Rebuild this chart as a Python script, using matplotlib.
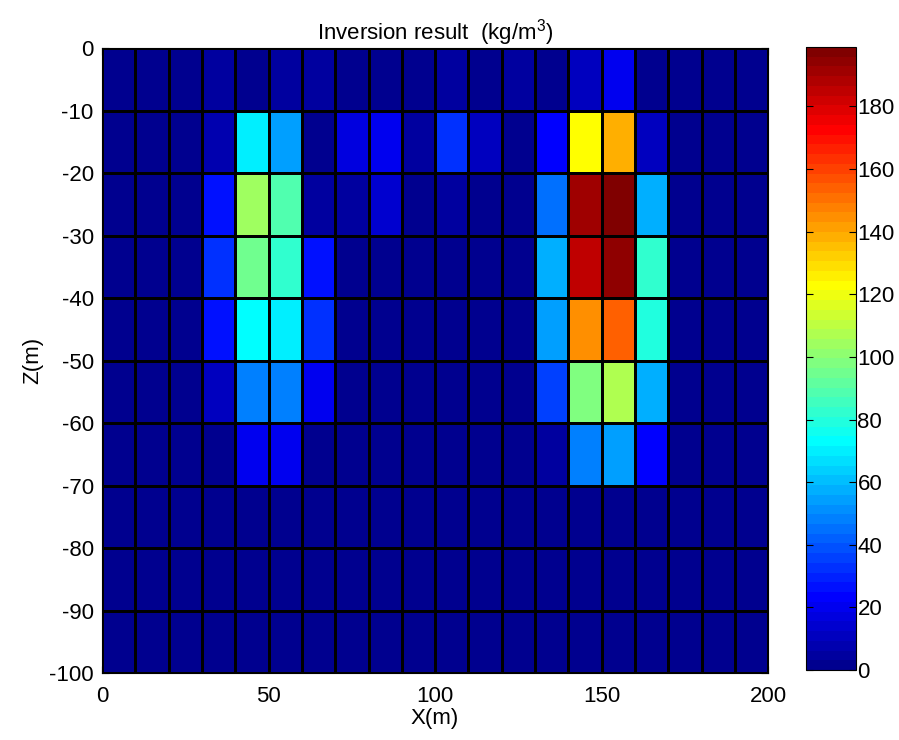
import numpy as np
import matplotlib
matplotlib.use('Agg')
from matplotlib import pyplot as plt
from matplotlib.colors import ListedColormap

plt.rcParams['font.family'] = ['Liberation Sans', 'DejaVu Sans']
plt.rcParams['mathtext.default'] = 'regular'
plt.rcParams['axes.unicode_minus'] = False

# cell edges (m)
x_edges = np.arange(0, 201, 10)
z_edges = np.arange(0, -101, -10)

# inverted density (kg/m^3), rows from z=0 down to z=-100, columns x=0..200
rho = np.array([
    [1.5, 1.5, 1.5, 5, 1.5, 4, 5, 1.5, 1.5, 3, 5, 1.5, 4, 3, 11, 20, 1.5, 1.5, 1.5, 1.5],
    [1.5, 1.5, 1.5, 8, 70, 54, 1.5, 17, 20, 5, 33, 11, 3, 23, 122, 138, 11, 1.5, 1.5, 1.5],
    [1.5, 1.5, 1.5, 25, 104, 88, 6, 5, 14, 2, 5, 2, 3, 46, 191, 197, 57, 1.5, 1.5, 1.5],
    [1.5, 1.5, 1.5, 33, 95, 83, 26, 1.5, 1.5, 1.5, 1.5, 1.5, 2, 59, 185, 194, 83, 1.5, 1.5, 1.5],
    [1.5, 1.5, 1.5, 27, 73, 70, 33, 1.5, 1.5, 1.5, 1.5, 1.5, 2, 53, 145, 154, 80, 1.5, 1.5, 1.5],
    [1.5, 1.5, 1.5, 11, 47, 47, 20, 1.5, 1.5, 1.5, 1.5, 1.5, 2, 35, 98, 107, 57, 1.5, 1.5, 1.5],
    [1.5, 1.5, 1.5, 3, 20, 21, 3, 1.5, 1.5, 1.5, 1.5, 1.5, 1.5, 5, 47, 53, 24, 1.5, 1.5, 1.5],
    [1.5, 1.5, 1.5, 1.5, 1.5, 1.5, 1.5, 1.5, 1.5, 1.5, 1.5, 1.5, 1.5, 1.5, 1.5, 1.5, 1.5, 1.5, 1.5, 1.5],
    [1.5, 1.5, 1.5, 1.5, 1.5, 1.5, 1.5, 1.5, 1.5, 1.5, 1.5, 1.5, 1.5, 1.5, 1.5, 1.5, 1.5, 1.5, 1.5, 1.5],
    [1.5, 1.5, 1.5, 1.5, 1.5, 1.5, 1.5, 1.5, 1.5, 1.5, 1.5, 1.5, 1.5, 1.5, 1.5, 1.5, 1.5, 1.5, 1.5, 1.5],
])

# MATLAB style jet(64)
k = np.arange(1, 65)
r = np.clip(np.minimum((k - 24) / 16, (72 - k) / 16), 0, 1)
g = np.clip(np.minimum((k - 8) / 16, (56 - k) / 16), 0, 1)
b = np.clip(np.minimum((k + 8) / 16, (40 - k) / 16), 0, 1)
jet64 = ListedColormap(np.column_stack([r, g, b]))

fig = plt.figure(figsize=(8.99, 7.40), dpi=100)
ax = fig.add_axes([0.1135, 0.0905, 0.741, 0.8446])
cax = fig.add_axes([0.8966, 0.0946, 0.0556, 0.8419])

pc = ax.pcolormesh(x_edges, z_edges, rho, cmap=jet64, vmin=0, vmax=199,
                   edgecolors='k', linewidth=1.0, antialiased=False)
ax.set_xlim(0, 200)
ax.set_ylim(-100, 0)
ax.set_xticks([0, 50, 100, 150, 200])
ax.set_yticks(np.arange(-100, 1, 10))
ax.tick_params(direction='in', top=True, right=True, labelsize=16, length=5)
ax.tick_params(axis='x', pad=9)
ax.tick_params(axis='y', pad=6)
ax.set_xlabel('X(m)', fontsize=16, labelpad=1)
ax.set_ylabel('Z(m)', fontsize=16, labelpad=4)
ax.set_title('Inversion result  (kg/m$^3$)', fontsize=16, pad=6)

cb = fig.colorbar(pc, cax=cax)
cb.set_ticks(np.arange(0, 181, 20))
cb.outline.set_linewidth(0.8)
cax.tick_params(direction='in', left=True, right=True, labelsize=16, length=5, pad=1)

plt.savefig('out.png', dpi=100)
